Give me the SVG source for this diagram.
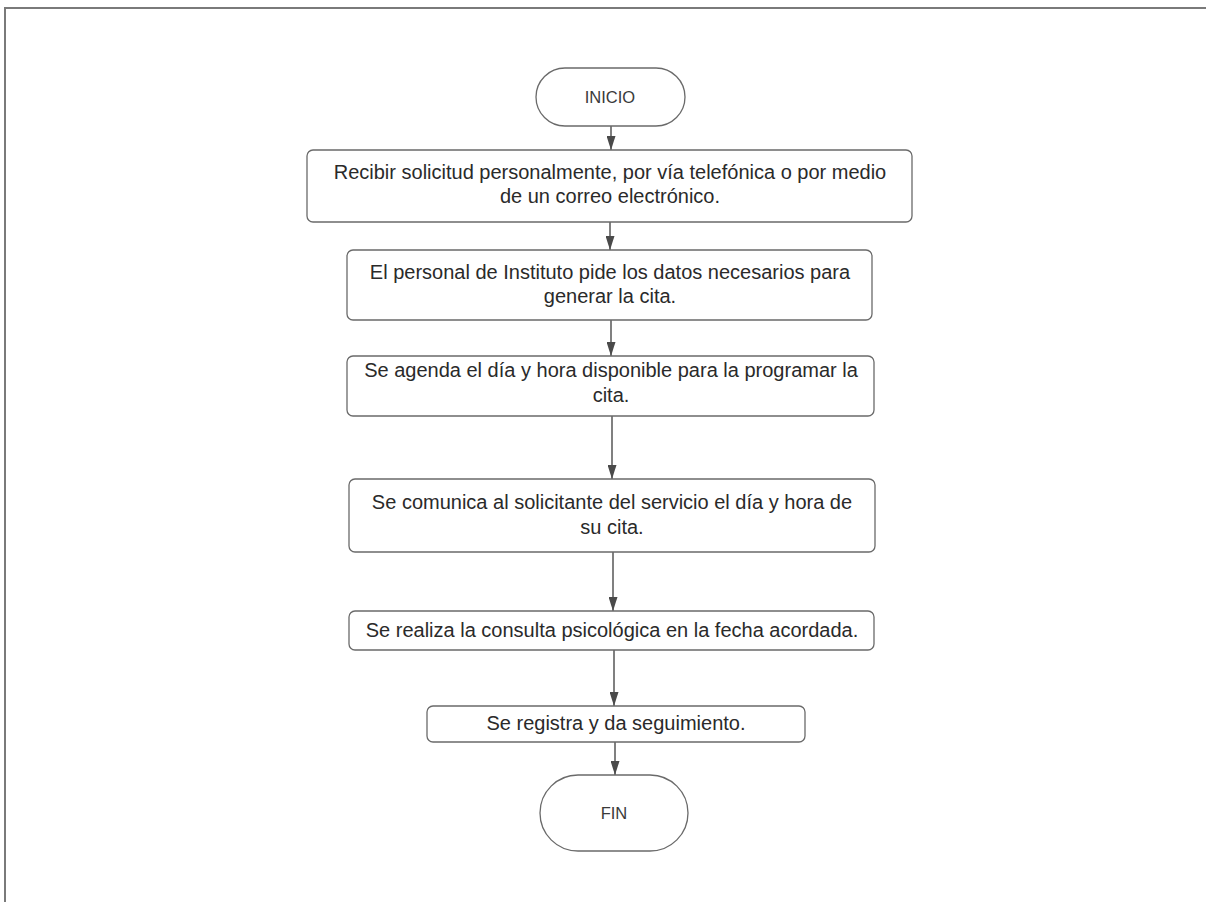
<svg xmlns="http://www.w3.org/2000/svg" width="1206" height="902" viewBox="0 0 1206 902">
<defs>
<style>
.n{fill:#fff;stroke:#6a6a6a;stroke-width:1.3}
.t{font-family:"Liberation Sans",Arial,sans-serif;font-size:20px;fill:#2a2a2a;text-anchor:middle}
.ts{font-family:"Liberation Sans",Arial,sans-serif;font-size:16.5px;fill:#3a3a3a;text-anchor:middle}
.c{stroke:#4a4a4a;stroke-width:1.4;fill:none;marker-end:url(#ah)}
</style>
<marker id="ah" markerWidth="14" markerHeight="9" refX="14" refY="4.5" orient="auto" markerUnits="userSpaceOnUse" viewBox="0 0 14 9">
<path d="M0,0 L14,4.5 L0,9 Z" fill="#4a4a4a"/>
</marker>
</defs>
<rect width="1206" height="902" fill="#fff"/>
<polyline points="5,902 5,8 1206,8" fill="none" stroke="#7a7a7a" stroke-width="2"/>
<g id="connectors">
<line class="c" x1="611" y1="126" x2="611" y2="150"/>
<line class="c" x1="610" y1="222" x2="610" y2="250"/>
<line class="c" x1="611" y1="320" x2="611" y2="356"/>
<line class="c" x1="612" y1="416" x2="612" y2="479"/>
<line class="c" x1="613" y1="552" x2="613" y2="611"/>
<line class="c" x1="614" y1="650" x2="614" y2="706"/>
<line class="c" x1="615" y1="742" x2="615" y2="775"/>
</g>
<g id="inicio">
<rect class="n" x="536" y="68" width="149" height="58" rx="29"/>
<text class="ts" x="610" y="103">INICIO</text>
</g>
<g id="n1">
<rect class="n" x="307" y="150" width="605" height="72" rx="6"/>
<text class="t" x="610" y="179">Recibir solicitud personalmente, por vía telefónica o por medio</text>
<text class="t" x="610" y="203">de un correo electrónico.</text>
</g>
<g id="n2">
<rect class="n" x="347" y="250" width="525" height="70" rx="6"/>
<text class="t" x="610" y="279">El personal de Instituto pide los datos necesarios para</text>
<text class="t" x="610" y="303">generar la cita.</text>
</g>
<g id="n3">
<rect class="n" x="347" y="356" width="527" height="60" rx="6"/>
<text class="t" x="611" y="377">Se agenda el día y hora disponible para la programar la</text>
<text class="t" x="611" y="402">cita.</text>
</g>
<g id="n4">
<rect class="n" x="349" y="479" width="526" height="73" rx="6"/>
<text class="t" x="612" y="509">Se comunica al solicitante del servicio el día y hora de</text>
<text class="t" x="612" y="534">su cita.</text>
</g>
<g id="n5">
<rect class="n" x="349" y="611" width="525" height="39" rx="6"/>
<text class="t" x="612" y="637">Se realiza la consulta psicológica en la fecha acordada.</text>
</g>
<g id="n6">
<rect class="n" x="427" y="706" width="378" height="36" rx="6"/>
<text class="t" x="616" y="730">Se registra y da seguimiento.</text>
</g>
<g id="fin">
<rect class="n" x="540" y="775" width="148" height="76" rx="38"/>
<text class="ts" x="614" y="819">FIN</text>
</g>
</svg>
